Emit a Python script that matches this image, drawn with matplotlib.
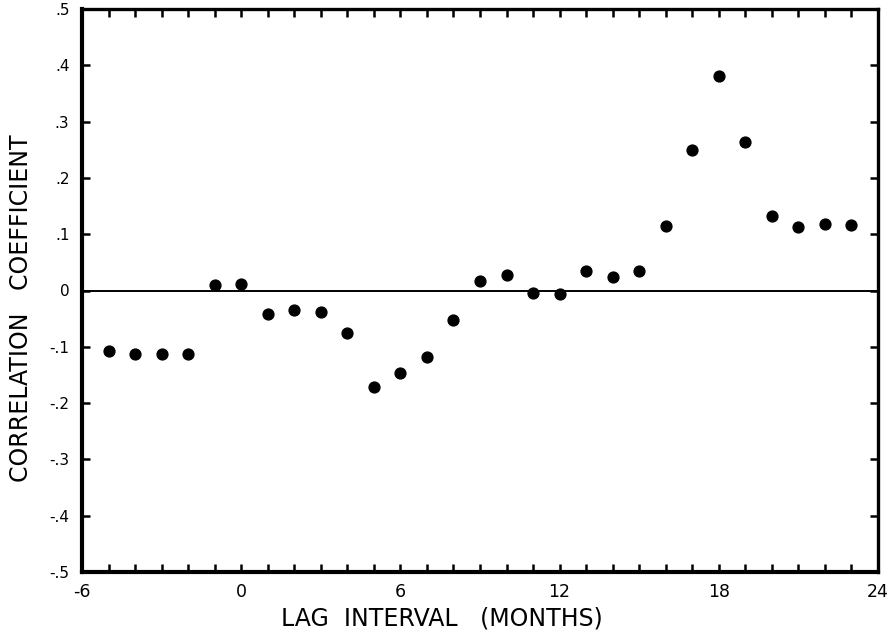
import matplotlib
matplotlib.use("Agg")
import matplotlib.pyplot as plt
from matplotlib.ticker import MultipleLocator, FixedLocator

# Lagged correlation coefficients by lag interval (months)
lags = [-5, -4, -3, -2, -1, 0, 1, 2, 3, 4, 5, 6, 7, 8, 9, 10, 11, 12,
        13, 14, 15, 16, 17, 18, 19, 20, 21, 22, 23]
corr = [-0.108, -0.112, -0.112, -0.112, 0.009, 0.011, -0.041, -0.034,
        -0.039, -0.075, -0.171, -0.147, -0.119, -0.052, 0.017, 0.028,
        -0.004, -0.007, 0.034, 0.024, 0.034, 0.114, 0.249, 0.381, 0.263,
        0.133, 0.112, 0.119, 0.116]

x_ticks = [-6, 0, 6, 12, 18, 24]
x_tick_labels = ["-6", "0", "6", "12", "18", "24"]
y_ticks = [0.5, 0.4, 0.3, 0.2, 0.1, 0.0, -0.1, -0.2, -0.3, -0.4, -0.5]
y_tick_labels = [".5", ".4", ".3", ".2", ".1", "0", "-.1", "-.2", "-.3", "-.4", "-.5"]

plt.rcParams["font.family"] = ["DejaVu Sans"]

fig = plt.figure(figsize=(8.89, 6.32), dpi=100)
ax = fig.add_axes([82 / 889, 60 / 632, 796 / 889, 563 / 632])

ax.axhline(0, color="black", lw=1.4, zorder=1)
ax.plot(lags, corr, "o", color="black", ms=7.8, zorder=3)

ax.set_xlim(-6, 24)
ax.set_ylim(-0.5, 0.5)

ax.xaxis.set_major_locator(FixedLocator(x_ticks))
ax.set_xticklabels(x_tick_labels)
ax.xaxis.set_minor_locator(MultipleLocator(1))
ax.yaxis.set_major_locator(FixedLocator(y_ticks))
ax.set_yticklabels(y_tick_labels)

ax.tick_params(axis="both", which="both", direction="in",
               top=True, right=True, width=1.8, length=6, color="black")
ax.tick_params(axis="x", which="major", labelsize=12.5, pad=8)
ax.tick_params(axis="y", which="major", labelsize=11, pad=9)

for side in ["left", "bottom"]:
    ax.spines[side].set_linewidth(3.0)
for side in ["top", "right"]:
    ax.spines[side].set_linewidth(2.4)

ax.set_xlabel("LAG  INTERVAL   (MONTHS)", fontsize=17)
ax.xaxis.set_label_coords(0.452, -0.062)
ax.set_ylabel("CORRELATION   COEFFICIENT", fontsize=17)
ax.yaxis.set_label_coords(-0.061, 0.469)

fig.savefig("out.png", dpi=100, facecolor="white")
